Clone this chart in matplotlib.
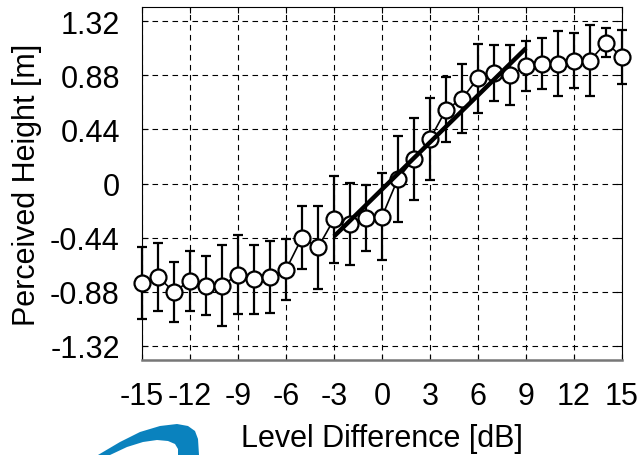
import matplotlib
matplotlib.use('Agg')
import matplotlib.pyplot as plt
from matplotlib.patches import Polygon

plt.rcParams['font.family'] = ['Liberation Sans', 'DejaVu Sans']
plt.rcParams['axes.unicode_minus'] = False

# level difference (dB)
level_db = list(range(-15, 16))
# mean perceived height (m)
height_mean = [-0.81, -0.76, -0.88, -0.79, -0.83, -0.83, -0.74, -0.78, -0.76, -0.70,
               -0.44, -0.52, -0.29, -0.33, -0.28, -0.27, 0.04, 0.20, 0.36, 0.60,
               0.69, 0.855, 0.90, 0.88, 0.955, 0.975, 0.975, 1.00, 1.00, 1.145, 1.03]
# standard deviation
height_sd = [0.29, 0.28, 0.245, 0.245, 0.24, 0.33, 0.32, 0.28, 0.29, 0.25,
             0.255, 0.335, 0.355, 0.335, 0.27, 0.355, 0.35, 0.335, 0.335, 0.265,
             0.28, 0.28, 0.23, 0.245, 0.20, 0.21, 0.265, 0.22, 0.285, 0.12, 0.22]
# linear fit over the -3..9 dB range
fit_x = [-3, 9]
fit_y = [-0.43, 1.10]

x_ticks = list(range(-15, 16, 3))
y_ticks = [-1.32, -0.88, -0.44, 0, 0.44, 0.88, 1.32]
y_ticklabels = ['-1.32', '-0.88', '-0.44', '0', '0.44', '0.88', '1.32']

fig = plt.figure(figsize=(6.44, 4.56), dpi=100)
ax = fig.add_axes([0.2205, 0.2083, 0.7453, 0.7741])

ax.grid(True, color='black', linestyle=(0, (5, 4)), linewidth=0.8)
ax.set_axisbelow(True)

eb = ax.errorbar(level_db, height_mean, yerr=height_sd, fmt='none', ecolor='black',
                 elinewidth=1.6, capsize=3.8, capthick=1.6, zorder=2)
for art in eb.get_children():
    art.set_clip_on(False)
ax.plot(level_db, height_mean, '-', color='black', lw=1.2, zorder=3)
ax.plot(level_db, height_mean, 'o', ms=11.5, mfc='white', mec='black', mew=1.6,
        zorder=4, clip_on=False)
ax.plot(fit_x, fit_y, '-', color='black', lw=3.2, solid_capstyle='butt', zorder=5)

ax.set_xlim(-15, 15)
ax.set_ylim(-1.435, 1.435)
ax.set_xticks(x_ticks)
ax.set_yticks(y_ticks)
ax.set_yticklabels(y_ticklabels)
ax.tick_params(direction='in', length=4, width=0.8, top=True, right=True,
               labelsize=22)
ax.tick_params(axis='x', pad=15)
ax.tick_params(axis='y', pad=16)

for s in ['left', 'top', 'right']:
    ax.spines[s].set_linewidth(0.8)
ax.spines['bottom'].set_color('#777777')
ax.spines['bottom'].set_linewidth(1.8)

ax.set_xlabel('Level Difference [dB]', fontsize=22, labelpad=9)
ax.set_ylabel('Perceived Height [m]', fontsize=22, labelpad=6)

# blue swoosh in the lower left corner (pixel outline)
W, H = 644.0, 456.0
swoosh = [(98, 456), (120, 443), (140, 433), (160, 427), (177, 425), (188, 427),
          (195, 432), (198, 440), (199, 456),
          (178, 456), (178, 450), (175, 445), (168, 442), (157, 441),
          (143, 443), (127, 448), (110, 456)]
fig.patches.append(Polygon([(px / W, 1 - py / H) for px, py in swoosh], closed=True,
                           transform=fig.transFigure, facecolor='#0a82be',
                           edgecolor='none'))

fig.savefig('out.png', dpi=100)
